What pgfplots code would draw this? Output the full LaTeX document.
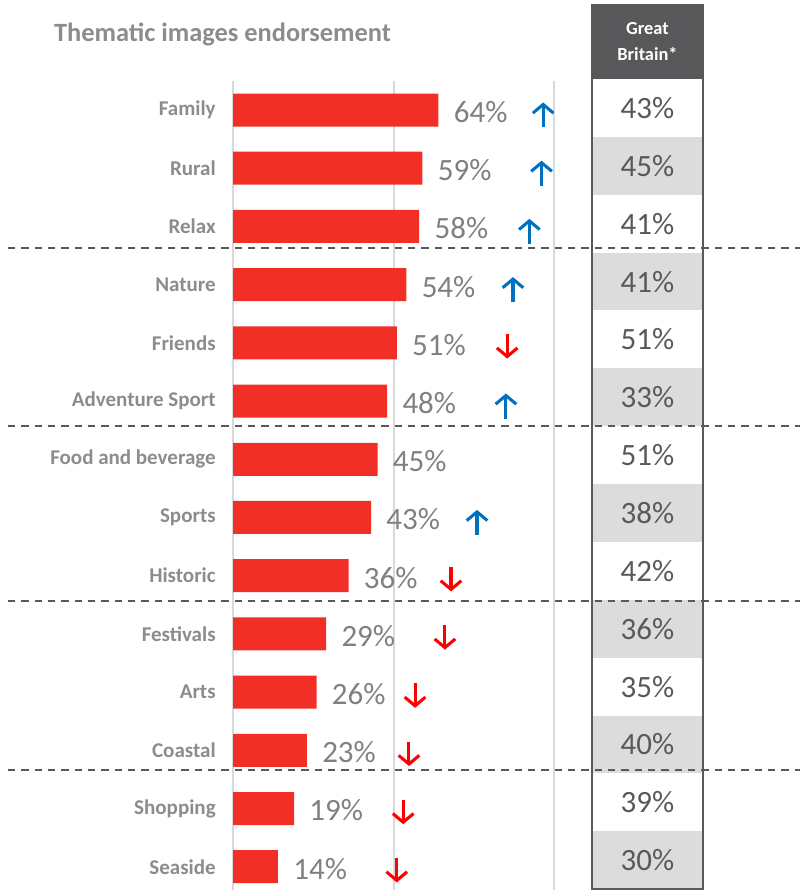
\documentclass[border=0pt]{standalone}
\usepackage{pgfplots}
\pgfplotsset{compat=1.18}
\usepackage{pgfplotstable}
\usepackage{fontspec}
\setmainfont{Carlito}
\usetikzlibrary{arrows.meta}

\definecolor{barred}{RGB}{241,47,39}
\definecolor{lblgray}{RGB}{140,140,140}
\definecolor{valgray}{RGB}{128,128,128}
\definecolor{dkgray}{RGB}{89,89,89}
\definecolor{hdrgray}{RGB}{88,88,90}
\definecolor{cellgray}{RGB}{220,220,220}
\definecolor{gridgray}{RGB}{217,217,217}
\definecolor{upblue}{RGB}{0,112,192}
\definecolor{downred}{RGB}{255,0,0}

\pgfplotstableread{
row val
0 64
1 59
2 58
3 54
4 51
5 48
6 45
7 43
8 36
9 29
10 26
11 23
12 19
13 14
}\bars

\pgfplotstableread{
x y gb
129.1 -0.036 43
129.1 0.958 45
129.1 1.953 41
129.1 2.947 41
129.1 3.941 51
129.1 4.935 33
129.1 5.929 51
129.1 6.923 38
129.1 7.918 42
129.1 8.912 36
129.1 9.906 35
129.1 10.900 40
129.1 11.894 39
129.1 12.889 30
}\gbtab

\pgfplotstableread{
x y u v
96.6 0.30 0 -0.43
96.1 1.30 0 -0.43
92.3 1.30 0 -0.43
87.2 3.30 0 -0.43
85.0 5.30 0 -0.43
76.0 7.30 0 -0.43
}\upsraw

\pgfplotstableread{
x y u v
96.6 0.30 0 -0.43
96.1 1.30 0 -0.43
92.3 2.30 0 -0.43
87.2 3.30 0 -0.43
85.0 5.30 0 -0.43
76.0 7.30 0 -0.43
}\ups

\pgfplotstableread{
x y u v
85.4 3.85 0 0.42
67.9 7.85 0 0.42
66.0 8.85 0 0.42
56.7 9.85 0 0.42
54.8 10.85 0 0.42
53.0 11.85 0 0.42
51.0 12.85 0 0.42
}\downs

\begin{document}
\begin{tikzpicture}
\begin{axis}[
  scale only axis, width=425.25pt, height=606.735pt,
  xmin=0, xmax=176.64, ymin=-0.5, ymax=13.4,
  enlarge x limits=false, enlarge y limits=false,
  y dir=reverse,
  axis line style={draw=none},
  xtick={0,50,100}, xticklabels={},
  xmajorgrids, grid style={gridgray, line width=1.5pt},
  ytick={0,...,13},
  yticklabels={Family,Rural,Relax,Nature,Friends,Adventure Sport,Food and beverage,Sports,Historic,Festivals,Arts,Coastal,Shopping,Seaside},
  yticklabel style={font=\fontsize{15.75}{18}\selectfont\bfseries, text=lblgray, xshift=-9.5pt},
  major tick length=0pt,
  clip=false,
  /pgf/number format/assume math mode=true,
]
% Great Britain table background
\fill[hdrgray] (axis cs:111.8,-1.80) rectangle (axis cs:146.4,-0.533);
\fill[cellgray] (axis cs:111.8,0.461) rectangle (axis cs:146.4,1.455);
\fill[cellgray] (axis cs:111.8,2.450) rectangle (axis cs:146.4,3.444);
\fill[cellgray] (axis cs:111.8,4.438) rectangle (axis cs:146.4,5.432);
\fill[cellgray] (axis cs:111.8,6.427) rectangle (axis cs:146.4,7.421);
\fill[cellgray] (axis cs:111.8,8.415) rectangle (axis cs:146.4,9.409);
\fill[cellgray] (axis cs:111.8,10.404) rectangle (axis cs:146.4,11.398);
\fill[cellgray] (axis cs:111.8,12.392) rectangle (axis cs:146.4,13.386);
\draw[dkgray, line width=1.75pt] (axis cs:111.8,-1.80) rectangle (axis cs:146.4,13.386);

% separators
\draw[dkgray, line width=1.7pt, dash pattern=on 5.5pt off 4.5pt] (axis cs:-70.1,2.37) -- (axis cs:176.64,2.37);
\draw[dkgray, line width=1.7pt, dash pattern=on 5.5pt off 4.5pt] (axis cs:-70.1,5.43) -- (axis cs:176.64,5.43);
\draw[dkgray, line width=1.7pt, dash pattern=on 5.5pt off 4.5pt] (axis cs:-70.1,8.44) -- (axis cs:176.64,8.44);
\draw[dkgray, line width=1.7pt, dash pattern=on 5.5pt off 4.5pt] (axis cs:-70.1,11.34) -- (axis cs:176.64,11.34);

% bars
\addplot[xbar, bar width=0.567, fill=barred, draw=none,
  point meta=x,
  nodes near coords={\pgfmathprintnumber{\pgfplotspointmeta}\%},
  every node near coord/.append style={font=\fontsize{23.25}{26}\selectfont, text=valgray, xshift=8pt, yshift=-1.5pt}]
  table[x=val, y=row] {\bars};

% GB values
\addplot[only marks, mark=none,
  point meta=explicit,
  nodes near coords={\pgfmathprintnumber{\pgfplotspointmeta}\%},
  every node near coord/.append style={anchor=center, font=\fontsize{23.25}{26}\selectfont, text=dkgray}]
  table[x=x, y=y, meta=gb] {\gbtab};

% arrows
\addplot[upblue, line width=2.3pt, -{Straight Barb[length=6.5pt, width=15.5pt]},
  quiver={u=\thisrow{u}, v=\thisrow{v}}] table[x=x, y=y] {\ups};
\addplot[downred, line width=2.3pt, -{Straight Barb[length=6.5pt, width=15.5pt]},
  quiver={u=\thisrow{u}, v=\thisrow{v}}] table[x=x, y=y] {\downs};

% title and header
\node[anchor=base west, font=\fontsize{19.8}{22}\selectfont\bfseries, text=lblgray, inner sep=0pt] at (axis cs:-55.8,-1.17) {Thematic images endorsement};
\node[align=center, font=\fontsize{13.8}{19.5}\selectfont\bfseries, text=white] at (axis cs:129.1,-1.168) {Great\\Britain*};

\coordinate (bbl) at (axis cs:-72.59,13.4);
\coordinate (btr) at (axis cs:176.64,-1.890);
\end{axis}
\pgfresetboundingbox
\useasboundingbox (bbl) rectangle (btr);
\end{tikzpicture}
\end{document}
